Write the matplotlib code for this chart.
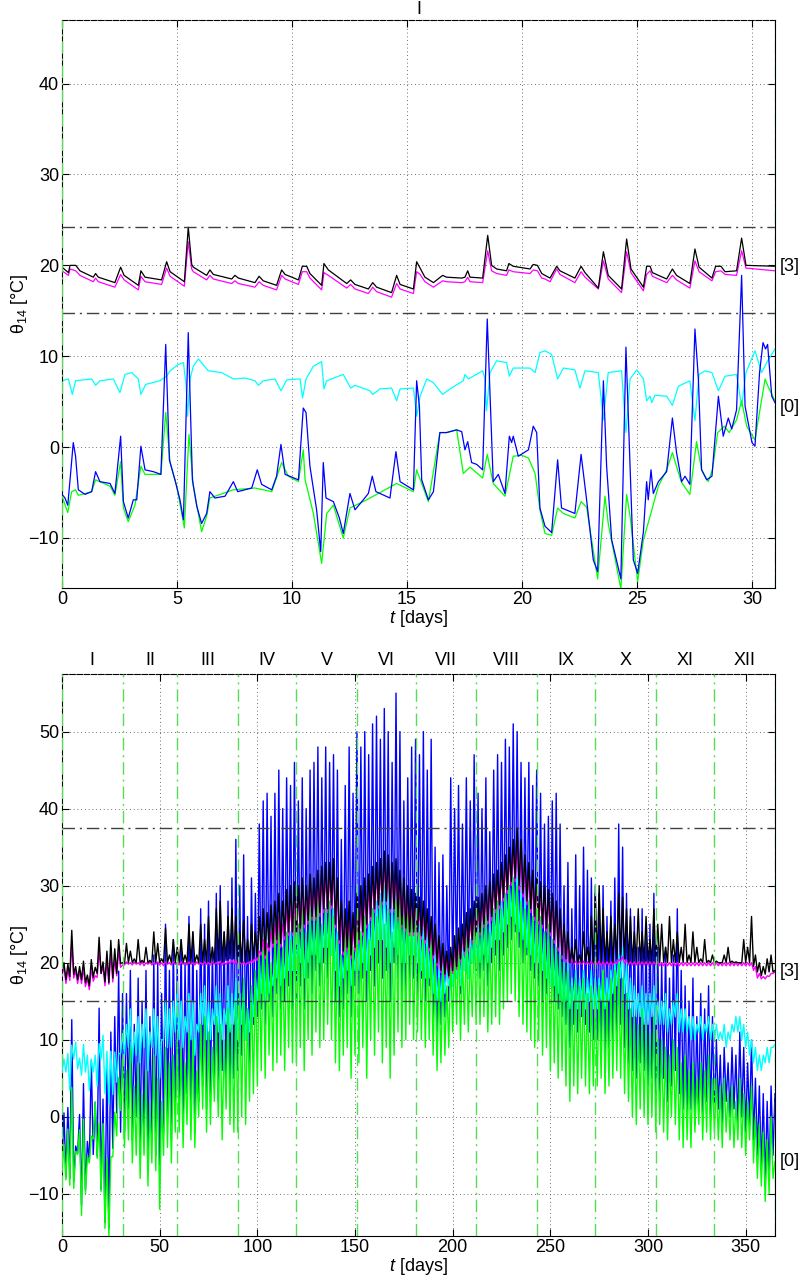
import numpy as np
import matplotlib.pyplot as plt

plt.rcParams['font.family'] = ['Liberation Sans', 'DejaVu Sans']
plt.rcParams['mathtext.fontset'] = 'custom'
plt.rcParams['mathtext.rm'] = 'Liberation Sans'
plt.rcParams['mathtext.it'] = 'Liberation Sans:italic'
plt.rcParams['font.size'] = 13

# ---------------- top panel: January, (day, value) pairs ----------------
t_room = [0, 0.28, 0.35, 0.60, 0.78, 1.36, 1.46, 1.58, 2.30, 2.55, 2.70, 3.32, 3.43, 3.61,
          4.33, 4.55, 4.70, 5.32, 5.49, 5.64, 5.71, 6.29, 6.43, 6.58, 7.38, 7.52, 7.67,
          8.39, 8.57, 8.75, 9.33, 9.55, 9.70, 10.28, 10.45, 10.64, 10.78, 11.29, 11.39,
          11.58, 12.38, 12.55, 12.74, 13.32, 13.51, 13.68, 14.33, 14.55, 14.70, 15.28,
          15.42, 15.57, 15.78, 16.15, 16.55, 16.72, 17.38, 17.52, 17.64, 17.74, 18.29,
          18.51, 18.68, 18.90, 19.33, 19.43, 19.62, 20.35, 20.49, 20.67, 20.86, 21.00,
          21.22, 21.51, 21.65, 22.30, 22.57, 22.74, 23.32, 23.54, 23.75, 24.33, 24.55,
          24.74, 25.28, 25.42, 25.57, 25.67, 26.29, 26.54, 26.72, 27.30, 27.52, 27.70,
          28.26, 28.42, 28.65, 28.83, 29.33, 29.55, 29.74, 31.00]
black_top = [19.8, 19.2, 20.0, 20.0, 19.4, 18.7, 19.1, 18.7, 18.1, 19.8, 18.9, 17.8, 19.4, 18.7,
             18.4, 20.4, 19.3, 18.2, 24.2, 20.1, 19.8, 18.9, 19.5, 19.0, 18.5, 18.9, 18.6,
             18.1, 18.8, 18.3, 17.8, 19.5, 19.0, 18.4, 19.9, 19.9, 19.1, 17.8, 20.2,
             19.5, 18.0, 18.4, 17.9, 17.4, 18.1, 17.6, 17.0, 18.9, 17.9, 17.4,
             20.4, 19.7, 18.7, 18.1, 18.9, 18.7, 18.6, 18.7, 19.4, 18.7, 18.6,
             23.3, 20.0, 19.6, 19.4, 20.2, 19.9, 19.6, 20.1, 20.0, 19.1, 18.9,
             18.6, 19.9, 19.4, 18.6, 19.9, 19.2, 17.5, 21.5, 18.9, 17.4, 22.9,
             19.6, 17.6, 19.9, 19.9, 19.2, 18.5, 19.6, 18.9, 18.0, 21.8, 19.8,
             18.6, 19.9, 19.9, 19.3, 19.4, 23.0, 20.0, 19.9]
magenta_top = [19.4, 18.9, 19.6, 19.4, 18.9, 18.2, 18.6, 18.2, 17.6, 19.0, 18.4, 17.3, 18.8, 18.2,
               17.9, 19.7, 18.8, 17.7, 22.6, 19.6, 19.3, 18.4, 18.9, 18.5, 18.0, 18.3, 18.0,
               17.6, 18.2, 17.8, 17.3, 18.9, 18.5, 17.9, 19.3, 19.3, 18.6, 17.3, 19.2,
               18.9, 17.5, 17.9, 17.4, 16.9, 17.6, 17.1, 16.5, 18.0, 17.4, 16.9,
               19.3, 19.0, 18.2, 17.6, 18.3, 18.2, 18.1, 18.2, 18.7, 18.2, 18.1,
               21.6, 19.4, 19.1, 18.9, 19.5, 19.3, 19.1, 19.5, 19.4, 18.6, 18.5,
               18.2, 19.6, 19.0, 18.1, 19.3, 18.7, 17.4, 20.5, 18.5, 17.0, 21.5,
               19.2, 17.2, 19.0, 19.4, 18.8, 18.1, 18.9, 18.4, 17.5, 20.5, 19.3,
               18.3, 19.3, 19.4, 19.0, 18.9, 21.6, 19.7, 19.4]

cyan_top = [(0, 7.3), (0.28, 7.5), (0.45, 5.8), (0.59, 7.3), (1.29, 7.5), (1.46, 6.8), (1.65, 7.3),
            (2.23, 7.5), (2.52, 6.0), (2.74, 8.0), (3.03, 8.2), (3.32, 7.5), (3.43, 5.8), (3.64, 6.9),
            (4.26, 7.3), (4.55, 7.8), (4.70, 8.4), (5.06, 9.1), (5.28, 9.3), (5.40, 6.7), (5.46, 3.4),
            (5.57, 7.5), (5.71, 8.9), (5.93, 9.7), (6.36, 8.4), (6.94, 8.2), (7.45, 7.5), (7.96, 7.6),
            (8.39, 7.3), (8.54, 6.8), (8.75, 7.3), (9.26, 7.5), (9.52, 6.2), (9.77, 7.4), (10.35, 7.5),
            (10.46, 5.4), (10.61, 7.5), (10.93, 8.9), (11.29, 9.4), (11.39, 6.4), (11.51, 7.3),
            (12.23, 8.0), (12.55, 6.5), (12.74, 6.8), (13.39, 6.2), (13.51, 5.8), (13.83, 6.4),
            (14.33, 6.5), (14.55, 5.1), (14.70, 6.4), (15.28, 6.5), (15.42, 3.4), (15.57, 5.6),
            (15.86, 7.5), (16.14, 7.1), (16.55, 5.8), (16.87, 6.4), (17.45, 7.3), (17.52, 8.0),
            (17.67, 7.5), (18.29, 8.4), (18.39, 7.5), (18.46, 4.0), (18.61, 8.2), (18.90, 9.5),
            (19.33, 9.3), (19.45, 7.8), (19.62, 8.7), (20.35, 8.7), (20.57, 8.2), (20.78, 10.4),
            (21.00, 10.6), (21.29, 10.2), (21.55, 7.5), (21.80, 8.7), (22.30, 8.5), (22.52, 6.5),
            (22.74, 8.4), (23.32, 8.2), (23.54, 3.0), (23.75, 8.2), (24.33, 8.4), (24.52, 1.6),
            (24.70, 7.5), (24.99, 8.5), (25.28, 7.5), (25.42, 5.1), (25.57, 5.6), (25.64, 4.9),
            (25.78, 5.7), (26.29, 5.6), (26.54, 4.6), (26.80, 6.7), (27.30, 7.3), (27.52, 2.9),
            (27.70, 8.0), (27.96, 8.4), (28.26, 8.2), (28.54, 6.2), (28.83, 7.8), (29.33, 8.0),
            (29.55, 4.5), (29.74, 8.2), (30.13, 10.6), (30.42, 8.2), (30.64, 9.3), (31.00, 10.8)]

blue_top = [(0, -5.2), (0.13, -5.6), (0.25, -6.4), (0.35, -3.6), (0.49, 0.5), (0.59, -1.0), (0.71, -4.7),
            (1.00, -5.2), (1.29, -4.9), (1.46, -2.7), (1.65, -3.8), (2.09, -4.0), (2.30, -5.1), (2.55, 1.2),
            (2.67, -6.0), (2.88, -7.8), (3.10, -5.8), (3.25, -5.8), (3.43, 0.1), (3.61, -2.5), (3.97, -2.7),
            (4.30, -3.0), (4.51, 11.3), (4.67, -1.4), (4.91, -3.6), (5.13, -5.8), (5.28, -8.0), (5.49, 12.6),
            (5.67, -3.6), (5.86, -6.5), (6.07, -8.4), (6.29, -7.3), (6.43, -4.9), (6.65, -5.6), (7.09, -5.4),
            (7.45, -3.8), (7.64, -4.9), (8.25, -4.5), (8.49, -2.5), (8.68, -4.1), (9.12, -4.7), (9.33, -3.2),
            (9.52, 0.3), (9.70, -3.0), (10.28, -3.6), (10.49, 4.3), (10.61, 3.8), (10.78, -2.1), (11.07, -6.9),
            (11.25, -11.5), (11.36, -1.7), (11.48, -5.6), (11.80, -6.0), (12.06, -7.8), (12.23, -9.5),
            (12.52, -5.1), (12.74, -6.9), (13.10, -5.8), (13.32, -5.1), (13.49, -3.2), (13.65, -4.9),
            (14.26, -5.6), (14.52, -0.5), (14.70, -3.8), (15.28, -4.7), (15.42, 7.3), (15.54, 4.5),
            (15.64, -3.6), (15.93, -5.8), (16.15, -4.9), (16.43, 1.6), (16.72, 1.6), (17.16, 1.9),
            (17.38, 1.7), (17.52, -0.3), (17.64, 0.6), (17.81, -1.7), (18.03, -1.9), (18.29, -2.5),
            (18.49, 14.1), (18.64, 3.8), (18.75, -3.8), (18.97, -3.0), (19.26, -5.1), (19.45, 1.2),
            (19.55, 0.5), (19.62, 1.2), (19.84, -1.0), (20.28, -0.3), (20.49, 2.3), (20.64, 1.6),
            (20.78, -6.7), (21.00, -8.7), (21.29, -9.4), (21.55, -1.4), (21.72, -6.7), (22.30, -7.3),
            (22.57, -0.8), (22.81, -5.8), (23.10, -12.4), (23.29, -13.7), (23.54, 7.3), (23.68, -2.1),
            (23.90, -10.2), (24.30, -14.5), (24.52, 11.0), (24.70, -2.1), (24.84, -12.4), (25.03, -13.9),
            (25.28, -9.3), (25.42, -3.8), (25.49, -5.8), (25.61, -2.5), (25.71, -5.1), (25.93, -3.8),
            (26.29, -2.7), (26.54, 3.2), (26.72, -0.6), (26.94, -3.8), (27.09, -3.2), (27.30, -4.1),
            (27.52, 13.0), (27.67, 7.5), (27.81, -2.5), (28.03, -3.6), (28.26, -3.2), (28.54, 5.6),
            (28.75, 1.2), (28.97, 3.2), (29.12, 2.0), (29.33, 4.1), (29.55, 18.9), (29.70, 4.5),
            (30.00, 0.5), (30.13, 0.1), (30.33, 8.2), (30.48, 11.5), (30.59, 10.8), (30.68, 11.3),
            (30.86, 5.6), (31.00, 4.9)]

green_top = [(0, -5.4), (0.25, -7.2), (0.42, -4.9), (0.59, -4.7), (0.71, -5.3), (1.29, -4.9), (1.46, -3.6),
             (2.09, -4.3), (2.30, -5.3), (2.55, -1.6), (2.67, -6.7), (2.88, -8.2), (3.17, -6.4), (3.43, -2.1),
             (3.61, -3.0), (4.30, -3.0), (4.51, 3.8), (4.70, -1.7), (4.99, -4.3), (5.32, -8.9), (5.52, 1.4),
             (5.71, -4.3), (6.07, -9.3), (6.29, -7.6), (6.43, -5.6), (7.45, -4.7), (8.39, -4.5), (9.12, -4.9),
             (9.55, -1.7), (9.84, -3.2), (10.28, -3.8), (10.49, -0.3), (10.57, -3.6), (10.93, -7.3),
             (11.29, -12.8), (11.51, -7.3), (11.80, -6.4), (12.23, -10.0), (12.52, -6.7), (13.25, -5.8),
             (13.68, -5.2), (14.55, -4.0), (15.28, -4.9), (15.42, -2.5), (15.93, -6.0), (16.43, 1.6),
             (16.72, 1.6), (17.16, 1.9), (17.45, -2.9), (17.74, -2.2), (18.29, -3.4), (18.49, -0.8),
             (18.75, -4.0), (19.26, -5.4), (19.62, -1.0), (19.99, -0.9), (20.28, -1.2), (20.57, -2.9),
             (20.78, -6.9), (21.00, -9.5), (21.29, -9.7), (21.55, -6.7), (21.80, -7.3), (22.30, -7.8),
             (22.57, -6.0), (22.81, -6.6), (23.29, -14.5), (23.61, -5.4), (23.75, -8.4), (24.30, -15.6),
             (24.55, -5.2), (24.70, -7.6), (25.03, -14.8), (25.28, -10.2), (25.57, -7.6), (25.93, -4.3),
             (26.29, -2.5), (26.54, -0.6), (26.80, -2.8), (26.94, -3.9), (27.30, -5.2), (27.59, 0.6),
             (27.81, -2.5), (28.10, -3.8), (28.28, -2.5), (28.51, 1.6), (28.80, 2.3), (29.01, 1.6),
             (29.33, 3.0), (29.55, 5.1), (29.77, 2.3), (30.13, 0.8), (30.57, 7.5), (30.71, 6.6), (31.00, 5.1)]

# ---------------- bottom panel: whole year, 2-day bins (low, high) ----------------
blue_lo = [-6.4, -7.8, -8.0, -8.4, -4.7, -11.5, -9.5, -5.8, -4.9, -5.1, -9.4, -13.7, -14.5, -4.1, 0.5, -2,
           -2, 1, -3, 0, -4, -2, -5, -3, -5, -7, -2, 0, -3, 1,
           1, -1, 3, 0, -2, 2, 4, 1, 3, 5, 2, 6, 4, 3, 5,
           6, 8, 10, 7, 12, 13, 14, 12, 15, 13, 16, 14, 15, 17, 14,
           15, 17, 14, 18, 16, 19, 17, 20, 18, 21, 15, 13, 14, 16, 13, 17,
           16, 18, 15, 19, 17, 20, 18, 19, 15, 20, 18, 14, 16, 17, 18,
           16, 18, 15, 17, 12, 11, 12, 13, 15, 17, 18, 16, 19, 18, 20, 19,
           18, 19, 17, 20, 21, 19, 21, 22, 23, 24, 22, 20, 21, 19, 18,
           17, 15, 16, 17, 15, 14, 13, 12, 9, 12, 11, 13, 12, 11, 10,
           10, 9, 8, 9, 10, 11, 12, 9, 7, 6, 5, 7, 6, 4, 5, 3,
           3, 5, 2, 4, 6, 3, 1, 0, 1, -1, 1, 0, 2, 0,
           0, 1, -1, 2, 0, 1, -1, 0, -2, -1, -3, -5, -7, -9, -8, -5]
blue_hi = [0.5, 1.2, 12.6, -3.8, 0.3, 4.3, -3.2, 7.3, 1.9, 14.1, 2.3, 7.3, 11.0, 13.0, 18.9, 16,
           16, 19, 12, 18, 15, 19, 13, 21, 20, 16, 25, 19, 23, 20,
           23, 20, 26, 24, 19, 27, 25, 28, 22, 29, 30, 24, 28, 31, 36,
           30, 34, 26, 31, 29, 38, 41, 42, 39, 42, 45, 40, 44, 43, 46,
           41, 44, 40, 45, 46, 48, 44, 48, 46, 47, 45, 36, 43, 48, 42, 50,
           48, 50, 47, 51, 52, 49, 53, 50, 46, 55, 50, 41, 44, 48, 49,
           47, 50, 45, 49, 35, 33, 34, 30, 44, 40, 43, 38, 44, 41, 47, 42,
           40, 44, 37, 45, 47, 46, 49, 48, 51, 50, 46, 44, 46, 43, 45,
           42, 38, 39, 41, 42, 38, 30, 33, 27, 34, 30, 35, 32, 31, 30,
           29, 30, 26, 28, 31, 38, 35, 29, 27, 26, 22, 27, 24, 25, 29, 22,
           20, 22, 18, 21, 27, 19, 17, 15, 18, 13, 16, 14, 17, 13,
           10, 8, 9, 7, 9, 8, 11, 9, 7, 10, 5, 4, 3, 2, 4, 3]

green_lo = [-7.2, -8.2, -8.9, -9.3, -4.9, -12.8, -10.0, -6.0, -2.9, -5.4, -9.7, -14.5, -15.6, -5.2, -2.5, 0.8,
            -4, -3, -6, -5, -8, -5, -9, -6, -7, -12, -5, -4, -6, -2,
            -2, -4, -1, -3, -4, 0, 1, -2, -1, 2, 0, -3, 1, -1, -2,
            -2, 0, -1, 2, 3, 4, 6, 5, 8, 6, 7, 8, 6, 9, 7,
            7, 9, 6, 10, 8, 11, 9, 10, 12, 10, 7, 6, 8, 9, 5, 8,
            7, 9, 5, 10, 8, 11, 7, 9, 5, 8, 11, 9, 10, 12, 10,
            11, 10, 9, 10, 8, 6, 7, 8, 9, 11, 12, 10, 12, 11, 13, 12,
            12, 13, 11, 12, 13, 12, 14, 15, 16, 15, 13, 12, 11, 10, 9,
            10, 8, 9, 6, 7, 5, 6, 4, 2, 4, 3, 5, 4, 3, 4,
            4, 5, 3, 4, 5, 6, 5, 3, 2, 0, -1, 1, 0, -1, 0, -2,
            -1, -2, -3, 0, -1, -3, -4, -3, -4, -2, -1, -3, -2, -3,
            -2, -3, -4, -2, -3, -4, -3, -4, -5, -3, -6, -8, -9, -11, -10, -8]
green_hi = [-3.6, -1.6, 3.8, -4.5, -1.7, -0.3, -5.2, -2.5, 1.9, -0.8, -0.9, -5.4, -5.2, 0.6, 5.1, 7.5,
            6, 9, 4, 7, 3, 6, 2, 8, 5, 2, 9, 7, 8, 10,
            9, 7, 11, 10, 6, 12, 13, 11, 9, 13, 12, 10, 14, 12, 15,
            16, 18, 14, 17, 19, 21, 23, 22, 20, 24, 25, 22, 24, 23, 26,
            25, 27, 24, 27, 26, 28, 25, 27, 28, 26, 23, 21, 24, 25, 22, 27,
            24, 26, 23, 27, 26, 28, 25, 27, 24, 28, 30, 26, 29, 27, 25,
            24, 23, 22, 23, 20, 18, 19, 17, 21, 22, 24, 21, 23, 22, 25, 24,
            25, 26, 24, 27, 28, 27, 29, 30, 31, 30, 28, 27, 28, 26, 27,
            26, 24, 25, 23, 22, 21, 20, 19, 17, 18, 17, 18, 16, 17, 16,
            17, 19, 16, 18, 19, 20, 18, 16, 14, 13, 12, 14, 12, 11, 13, 10,
            10, 9, 8, 10, 9, 7, 8, 6, 7, 5, 7, 6, 8, 5,
            5, 4, 5, 3, 4, 2, 5, 3, 2, 4, 0, -1, -2, -3, 0, -5.8]

cyan_lo = [5.8, 5.8, 3.4, 7.5, 6.2, 5.4, 5.8, 3.4, 5.8, 4.0, 7.5, 3.0, 1.6, 2.9, 4.5, 8.2,
           8, 9, 7, 8, 7, 9, 6, 9, 8, 5, 10, 9, 9, 11,
           10, 9, 11, 10, 8, 11, 12, 10, 10, 12, 11, 10, 12, 11, 12,
           10, 12, 10, 11, 13, 15, 16, 15, 16, 17, 18, 17, 18, 19, 19,
           19, 20, 18, 20, 21, 21, 20, 22, 22, 21, 19, 17, 18, 19, 17, 19,
           19, 20, 19, 21, 22, 23, 23, 22, 20, 22, 21, 20, 20, 21, 21,
           20, 19, 18, 18, 16, 15, 15, 16, 17, 17, 18, 17, 19, 18, 20, 20,
           20, 21, 20, 22, 23, 23, 24, 25, 26, 25, 24, 23, 22, 21, 20,
           20, 19, 18, 17, 17, 16, 15, 15, 14, 15, 14, 15, 14, 15, 14,
           14, 15, 14, 15, 16, 17, 18, 16, 14, 13, 13, 13, 12, 12, 13, 12,
           12, 12, 11, 12, 13, 11, 11, 11, 10, 10, 11, 10, 11, 10,
           10, 10, 10, 9, 10, 11, 11, 10, 9, 8, 7, 6, 6, 7, 7, 9]
cyan_hi = [7.5, 8.2, 9.3, 9.7, 7.6, 9.4, 8.0, 7.5, 8.0, 9.5, 10.6, 8.5, 8.5, 8.4, 8.2, 10.8,
           12, 14, 11, 13, 12, 14, 11, 14, 13, 10, 15, 14, 15, 16,
           15, 13, 16, 15, 12, 16, 17, 15, 14, 17, 16, 14, 17, 16, 18,
           16, 17, 14, 16, 18, 20, 22, 21, 19, 22, 23, 21, 23, 24, 25,
           24, 25, 23, 26, 25, 27, 25, 27, 26, 27, 24, 21, 22, 24, 21, 25,
           24, 26, 25, 27, 28, 29, 30, 29, 27, 29, 28, 26, 27, 28, 27,
           25, 25, 24, 23, 21, 19, 20, 19, 21, 22, 23, 22, 24, 23, 25, 25,
           25, 26, 25, 27, 28, 28, 29, 30, 31, 31, 29, 28, 28, 26, 26,
           25, 24, 23, 22, 22, 21, 20, 20, 18, 19, 18, 19, 18, 19, 18,
           18, 19, 18, 19, 20, 21, 22, 20, 18, 17, 16, 17, 16, 16, 17, 15,
           15, 16, 14, 15, 16, 14, 14, 13, 13, 12, 13, 12, 13, 12,
           12, 11, 12, 11, 12, 13, 13, 12, 11, 10, 9, 8, 8, 9, 9, 9.4]

black_lo = [18.7, 17.8, 18.2, 18.5, 17.8, 17.8, 17.4, 17.0, 18.1, 18.6, 18.6, 17.5, 17.4, 18.0, 18.6, 19.9,
            19.9, 20, 20, 20, 20, 20, 20, 20, 20, 20, 20, 20, 20, 20,
            20, 20, 20, 20, 20, 20, 20, 20, 20, 20, 20.2, 20, 20.3, 20.5, 20.5,
            20, 20, 20, 20.2, 20.5, 20.8, 21.5, 21, 22, 22.5, 23, 22.5, 23.5, 24, 24,
            24, 24.5, 25, 25.5, 26, 26, 26.5, 27, 27, 27.5, 25, 23, 21.5, 22, 21, 22,
            23, 24, 25, 26, 27, 27.5, 28, 28, 27, 27, 26, 25, 24.5, 24, 24,
            24, 23.5, 23, 22, 21, 20, 19, 18.5, 18.3, 19, 19.5, 20.5, 21.5, 22, 23, 23.5,
            24, 25, 25.5, 26, 27, 27.5, 28.5, 29.5, 30.5, 31, 30, 29, 28, 27, 26,
            25.5, 25, 24.5, 24, 23, 22, 21, 20.5, 20, 20, 20, 20, 20, 20, 20,
            20, 20, 20, 20, 20, 20.5, 21, 20.5, 20, 20, 20, 20, 20, 20, 20, 20,
            20, 20, 20, 20, 20, 20, 20, 20, 20, 20, 20, 20, 20, 20,
            20, 20, 20, 20, 20, 20, 20, 20, 20, 20, 19.5, 18.8, 18.3, 18.5, 18.8, 18.8]
black_hi = [20.0, 19.8, 24.2, 19.5, 19.5, 20.2, 18.4, 20.4, 19.4, 23.3, 20.1, 21.5, 22.9, 21.8, 23.0, 20.0,
            22.5, 21.5, 20.5, 23, 20.3, 22, 20.3, 24, 22.5, 20.5, 24.5, 21, 23, 22,
            23, 21, 25, 24, 21, 25, 23, 26, 22, 27, 28, 24, 26, 27, 26,
            24, 25.5, 23, 25, 24, 26, 27, 26.5, 27.5, 28, 29, 28, 29.5, 30, 30.5,
            30, 31, 30, 31.5, 31, 32, 32.5, 33, 33, 33.5, 31, 28, 27, 28, 26.5, 29,
            30, 31, 31.5, 32.5, 33, 33.5, 34.5, 34, 33, 33.5, 32, 31, 30, 29.5, 29,
            28.5, 28, 27, 26, 25, 23.5, 22.5, 21.5, 22, 23.5, 24.5, 25, 26.5, 27, 28, 28.5,
            29, 30, 30.5, 31.5, 32, 33, 34, 35, 36, 37.5, 36, 34, 33, 32, 31,
            30.5, 30, 29.5, 29, 28, 27, 25, 24, 22, 23, 21, 24, 22, 26, 29,
            30, 27, 24, 26, 25, 29, 28.5, 27, 26, 24, 27, 24, 26, 23, 27, 25,
            25, 22, 26, 23, 24, 22, 25, 21, 24, 22, 20.5, 23, 20.3, 21,
            20.2, 20, 21, 22, 20.2, 20.1, 20, 23, 22, 26, 21, 20, 19.5, 20.5, 21, 19.0]

magenta_lo = ([18.2, 17.3, 17.7, 18.0, 17.3, 17.3, 16.9, 16.5, 17.6, 18.1, 18.6, 17.0, 17.2, 17.5, 18.3, 19.4,
               19.7, 19.8, 19.7, 19.8, 19.7, 19.6, 19.8, 19.7, 19.8, 19.7, 19.6, 19.8, 19.7, 19.8,
               19.7, 19.8, 19.7, 19.8, 19.7, 19.8, 19.7, 19.8, 19.7, 19.8, 19.8, 19.7, 19.8, 19.9, 19.9,
               19.8, 19.8, 19.7, 19.9, 20.0, 20.3, 21.0, 20.5, 21.5, 22.0, 22.5, 22.0, 23.0, 23.5, 23.5,
               23.5, 24, 24.5, 25, 25.5, 25.5, 26, 26.5, 26.5, 27, 24.5, 22.5, 21, 21.5, 20.5, 21.5,
               22.5, 23.5, 24.5, 25.5, 26.5, 27, 27.5, 27.5, 26.5, 26.5, 25.5, 24.5, 24, 23.5, 23.5,
               23.5, 23, 22.5, 21.5, 20.5, 19.6, 18.7, 18.2, 18.0, 18.6, 19.1, 20, 21, 21.5, 22.5, 23,
               23.5, 24.5, 25, 25.5, 26.5, 27, 28, 29, 30, 30.5, 29.5, 28.5, 27.5, 26.5, 25.5,
               25, 24.5, 24, 23.5, 22.5, 21.5, 20.5, 20, 19.8, 19.8, 19.8, 19.8, 19.8, 19.8, 19.8,
               19.7, 19.7, 19.7, 19.7, 19.7, 19.9, 20.2, 19.9, 19.7, 19.7, 19.7, 19.7, 19.7, 19.7, 19.7, 19.7]
              + [19.6] * 14
              + [19.6] * 10 + [19.0, 18.0, 17.9, 17.9, 18.2, 18.6])
magenta_hi = ([19.6, 19.0, 22.6, 18.9, 18.9, 19.3, 17.9, 19.3, 18.3, 21.6, 19.5, 20.5, 21.5, 20.5, 21.6, 19.7,
               20.1, 20.0, 20.1, 20.0, 20.1, 20.0, 20.1, 20.0, 20.1, 20.0, 20.1, 20.0, 20.1, 20.0,
               20.1, 20.0, 20.1, 20.0, 20.1, 20.0, 20.1, 20.0, 20.1, 20.0, 20.2, 20.0, 20.2, 20.3, 20.3,
               20.0, 20.1, 20.0, 20.3, 20.6, 21.5, 23.0, 22.5, 24.0, 25.0, 26.0, 25.0, 27.0, 27.5, 28.0,
               28.5, 29.5, 28.5, 30, 29.5, 30.5, 31, 31.5, 31.5, 32, 29.5, 26.5, 25.5, 26.5, 25, 27.5,
               28.5, 29.5, 30, 31, 31.5, 32, 33, 32.5, 31.5, 32, 30.5, 29.5, 28.5, 28, 27.5,
               27, 26.5, 25.5, 24.5, 23.5, 22, 21, 20.3, 20.5, 22, 23, 23.5, 25, 25.5, 26.5, 27,
               27.5, 28.5, 29, 30, 30.5, 31.5, 32.5, 33.5, 34.5, 36, 34.5, 32.5, 31.5, 30.5, 29.5,
               29, 28.5, 28, 27.5, 26.5, 25.5, 23.5, 22, 20.5, 20.2, 20.1, 20.2, 20.1, 20.2, 20.2,
               20.2, 20.1, 20.1, 20.1, 20.1, 20.4, 20.8, 20.4, 20.1, 20.1, 20.1, 20.1, 20.1, 20.1, 20.1, 20.1]
              + [20.0] * 14
              + [20.0] * 10 + [19.5, 18.6, 18.2, 18.3, 18.6, 18.8])

month_edges = [0, 31, 59, 90, 120, 151, 181, 212, 243, 273, 304, 334, 365]
month_names = ['I', 'II', 'III', 'IV', 'V', 'VI', 'VII', 'VIII', 'IX', 'X', 'XI', 'XII']
limits_top = [14.8, 24.2]
limits_year = [15.0, 37.5]
tag_top = [19.9, 4.4]
tag_year = [18.8, -5.8]


def zigzag(lo, hi):
    v = np.empty(2 * len(lo))
    v[0::2] = lo
    v[1::2] = hi
    return np.arange(len(v)), v


def frame(ax, xmax, xstep, ylim, limits, edges, tags):
    ax.set_xlim(0, xmax)
    ax.set_ylim(*ylim)
    ax.set_xticks(np.arange(0, xmax + 0.1, xstep))
    ax.set_yticks(np.arange(-10, ylim[1], 10))
    ax.grid(True, linestyle=(0, (1, 3.5)), linewidth=0.6, color='0.25')
    ax.set_axisbelow(True)
    ax.tick_params(direction='in', top=True, right=True, length=5, width=0.8,
                   labelsize=13, pad=2)
    ax.spines['top'].set_linestyle((0, (5, 1.5)))
    for y in limits:
        ax.axhline(y, color='0.25', lw=1.0, ls=(0, (9, 3.5, 1.5, 3.5)), zorder=6)
    for x in edges:
        ax.axvline(x, color='#55dd55', lw=1.0, ls=(0, (9, 3.5, 1.5, 3.5)), zorder=6)
    tr = ax.get_yaxis_transform()
    for y, s in zip(tags, ['[3]', '[0]']):
        ax.text(1.006, y, s, transform=tr, ha='left', va='center', fontsize=13)
    ax.set_xlabel('$t$ [days]', fontsize=13, labelpad=0)
    ax.set_ylabel('θ$_{14}$ [°C]', fontsize=13, labelpad=-1)


fig = plt.figure(figsize=(8.02, 12.81), dpi=100)
ax1 = fig.add_axes([0.0773, 0.5410, 0.8890, 0.4434])
ax2 = fig.add_axes([0.0773, 0.0350, 0.8890, 0.4390])

# top: January
lw = 0.9
ax1.plot(*zip(*cyan_top), color='#00ffff', lw=lw, zorder=2)
ax1.plot(*zip(*green_top), color='#00ff00', lw=lw, zorder=3)
ax1.plot(*zip(*blue_top), color='#0000ff', lw=lw, zorder=4)
ax1.plot(t_room, magenta_top, color='#ff00ff', lw=lw, zorder=4)
ax1.plot(t_room, black_top, color='k', lw=lw, zorder=5)
frame(ax1, 31, 5, (-15.5, 47.0), limits_top, [0, 31], tag_top)
ax1.text(15.5, 1.004, 'I', transform=ax1.get_xaxis_transform(), ha='center', va='bottom', fontsize=13)

# bottom: whole year
lw2 = 1.0
ax2.plot(*zigzag(blue_lo, blue_hi), color='#0000ff', lw=lw2, zorder=2)
ax2.plot(*zigzag(cyan_lo, cyan_hi), color='#00ffff', lw=lw2, zorder=3)
ax2.plot(*zigzag(green_lo, green_hi), color='#00ff00', lw=lw2, zorder=3)
ax2.plot(*zigzag(magenta_lo, magenta_hi), color='#ff00ff', lw=lw2, zorder=4)
ax2.plot(*zigzag(black_lo, black_hi), color='k', lw=lw2, zorder=5)
frame(ax2, 365, 50, (-15.5, 57.5), limits_year, month_edges, tag_year)
for i, name in enumerate(month_names):
    mid = (month_edges[i] + month_edges[i + 1]) / 2
    ax2.text(mid, 1.008, name, transform=ax2.get_xaxis_transform(), ha='center', va='bottom', fontsize=13)

fig.savefig('out.png', dpi=100)
